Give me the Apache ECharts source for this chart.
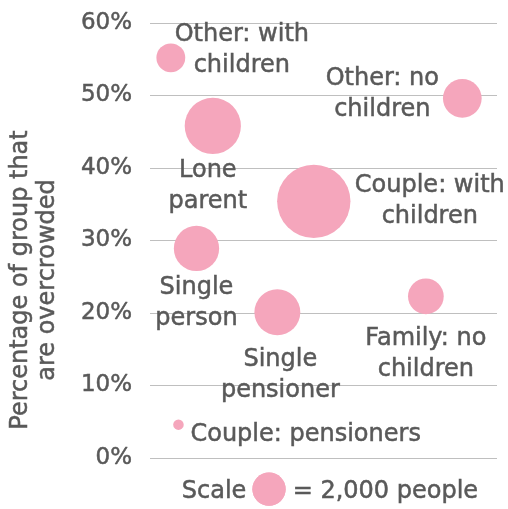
<!DOCTYPE html>
<html>
<head>
<meta charset="utf-8">
<script src="https://cdn.jsdelivr.net/npm/echarts@6/dist/echarts.min.js"></script>
<style>
  html, body { margin: 0; padding: 0; background: #ffffff; }
  #chart { width: 508px; height: 509px; }
</style>
</head>
<body>
<div id="chart"></div>
<script>
// Household groups: horizontal layout position, % overcrowded, number of people
const groups = ['Other: with\nchildren', 'Other: no\nchildren', 'Lone\nparent', 'Couple: with\nchildren',
                'Single\nperson', 'Single\npensioner', 'Family: no\nchildren', 'Couple: pensioners'];
const xPos = [6.0, 90.0, 18.1, 47.2, 13.4, 36.7, 79.5, 8.2];
const pctOvercrowded = [55.2, 49.6, 45.8, 35.4, 28.9, 20.1, 22.3, 4.6];
const people = [1500, 2700, 5700, 9700, 3700, 3800, 2300, 200];

// Bubble-size key
const scaleX = 34.3;
const scaleY = -4.3;
const scalePeople = 2000;

const yTicks = [0, 10, 20, 30, 40, 50, 60];

// Label placement for each bubble (offset from bubble centre)
const labelPlacement = [
  { offset: [71, -8], align: 'center' },
  { offset: [-80, -4], align: 'center' },
  { offset: [-5, 60], align: 'center' },
  { offset: [116, 0], align: 'center' },
  { offset: [0, 55], align: 'center' },
  { offset: [3, 63], align: 'center' },
  { offset: [0, 58], align: 'center' },
  { offset: [12, 10], align: 'left' }
];

const TEXT = '#595959';
const PINK = '#F5A6BC';
const FONT = 'DejaVu Sans';
const FS = 24;
const REF_DIAM = 33.3; // diameter of the 2,000-people key bubble

// slightly heavier text strokes
const textWeight = { textBorderColor: TEXT, textBorderWidth: 0.5 };

const sizeOf = v => REF_DIAM * Math.sqrt(v[2] / scalePeople);

const bubbleData = groups.map((g, i) => ({
  name: g,
  value: [xPos[i], pctOvercrowded[i], people[i]],
  label: {
    show: true,
    position: 'inside',
    offset: labelPlacement[i].offset,
    align: labelPlacement[i].align,
    formatter: '{b}'
  }
}));

const chart = echarts.init(document.getElementById('chart'), null, { renderer: 'canvas' });

chart.setOption({
  animation: false,
  grid: { left: 150, right: 11, top: 23, bottom: 51 },
  xAxis: {
    type: 'value', min: 0, max: 100,
    show: false
  },
  yAxis: {
    type: 'value', min: yTicks[0], max: yTicks[yTicks.length - 1], interval: 10,
    axisLine: { show: false },
    axisTick: { show: false },
    axisLabel: Object.assign({
      formatter: '{value}%', color: TEXT, fontFamily: FONT, fontSize: 23, margin: 18
    }, textWeight),
    splitLine: { lineStyle: { color: '#BFBFBF', width: 1 } }
  },
  graphic: [{
    type: 'text',
    x: 34, y: 280,
    rotation: Math.PI / 2,
    style: {
      text: 'Percentage of group that\nare overcrowded',
      fill: TEXT, font: FS + 'px "' + FONT + '"',
      stroke: TEXT, lineWidth: 0.5,
      align: 'center', verticalAlign: 'middle', lineHeight: 27
    }
  }],
  series: [
    {
      type: 'scatter',
      data: bubbleData,
      symbolSize: sizeOf,
      itemStyle: { color: PINK, opacity: 1 },
      label: Object.assign({ color: TEXT, fontFamily: FONT, fontSize: FS, lineHeight: 31 }, textWeight),
      z: 3
    },
    {
      type: 'scatter',
      clip: false,
      data: [[scaleX, scaleY, scalePeople]],
      symbolSize: sizeOf,
      itemStyle: { color: PINK, opacity: 1 },
      label: Object.assign({
        show: true, position: 'left', distance: 6, offset: [0, 3], formatter: 'Scale',
        color: TEXT, fontFamily: FONT, fontSize: FS
      }, textWeight)
    },
    {
      type: 'scatter',
      clip: false,
      data: [[scaleX, scaleY, scalePeople]],
      symbolSize: sizeOf,
      itemStyle: { color: PINK, opacity: 1 },
      label: Object.assign({
        show: true, position: 'right', distance: 7, offset: [0, 3],
        formatter: () => '= ' + scalePeople.toLocaleString('en-GB') + ' people',
        color: TEXT, fontFamily: FONT, fontSize: FS
      }, textWeight)
    }
  ]
});
</script>
</body>
</html>
